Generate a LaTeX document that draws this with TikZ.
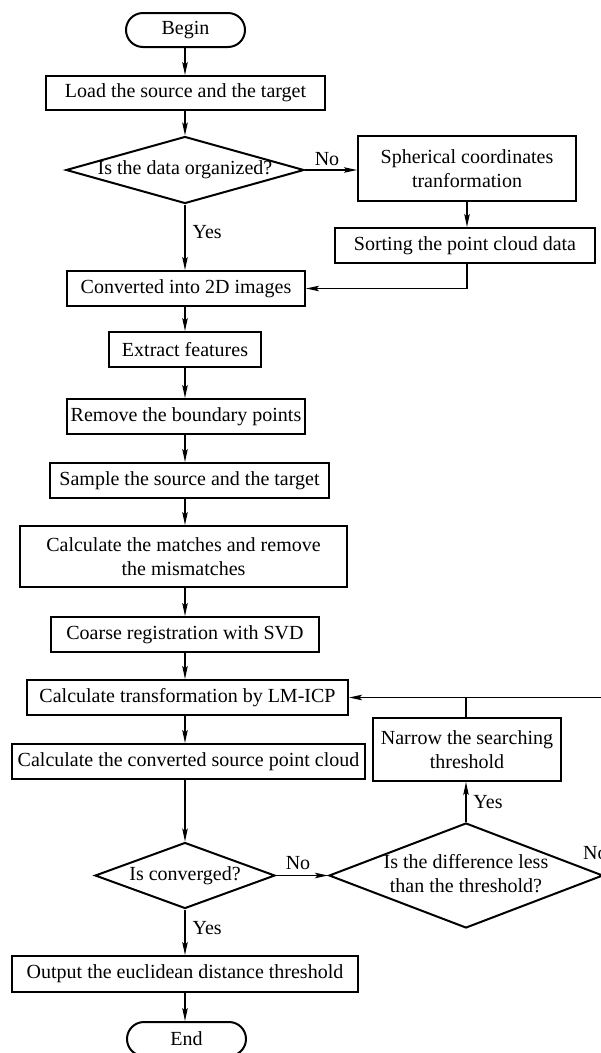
\documentclass[tikz,border=0pt]{standalone}
\usepackage{fontspec}
\setmainfont{Liberation Serif}
\usetikzlibrary{shapes.geometric,arrows.meta}

\begin{document}
\begin{tikzpicture}[x=1pt,y=-1pt,
  font=\fontsize{20}{24}\selectfont,
  box/.style={draw, line width=2pt, rectangle, inner sep=0pt, align=center},
  term/.style={draw, line width=2pt, rectangle, rounded corners=17pt, inner sep=0pt, minimum width=119pt, minimum height=34pt},
  dia/.style={draw, line width=2pt, diamond, inner sep=0pt, align=center},
  conn/.style={line width=1.2pt, -{Stealth[length=13pt,width=5.5pt,inset=2.5pt]}},
  plain/.style={line width=1.2pt},
  lbl/.style={inner sep=0pt}]

\path[clip, use as bounding box] (0,0) rectangle (601,1053);
\fill[white] (0,0) rectangle (601,1053);

\coordinate (ax) at (185,0);

% main column
\node[term] (begin) at (185.5,30) {Begin};
\node[box, minimum width=279pt, minimum height=34pt] (load) at (185.5,93) {Load the source and the target};
\node[dia, minimum width=238pt, minimum height=67pt] (d1) at (185,170) {\makebox[0pt]{Is the data organized?}};
\node[box, minimum width=238pt, minimum height=35pt] (conv) at (186,288.5) {Converted into 2D images};
\node[box, minimum width=152pt, minimum height=35pt] (extract) at (185,349.5) {Extract features};
\node[box, minimum width=238pt, minimum height=35pt] (remove) at (186,416.5) {Remove the boundary points};
\node[box, minimum width=279pt, minimum height=35pt] (sample) at (189.5,480.5) {Sample the source and the target};
\node[box, minimum width=327pt, minimum height=61pt] (matches) at (183.5,556.5) {Calculate the matches and remove\\the mismatches};
\node[box, minimum width=268pt, minimum height=35pt] (coarse) at (185,634.5) {Coarse registration with SVD};
\node[box, minimum width=321pt, minimum height=35pt] (trans) at (187.5,697.5) {Calculate transformation by LM-ICP};
\node[box, minimum width=353pt, minimum height=35pt] (csrc) at (188.5,761.5) {Calculate the converted source point cloud};
\node[dia, minimum width=180pt, minimum height=66pt] (d2) at (185,875.5) {\makebox[0pt]{Is converged?}};
\node[box, minimum width=346pt, minimum height=36pt] (out) at (185,974) {Output the euclidean distance threshold};
\node[term] (end) at (186.5,1039) {End};

% right column
\node[box, minimum width=218pt, minimum height=65pt] (sph) at (467,168.5) {Spherical coordinates\\tranformation};
\node[box, minimum width=260pt, minimum height=35pt] (sort) at (465,245.5) {Sorting the point cloud data};
\node[box, minimum width=188pt, minimum height=63pt] (narrow) at (467,749.5) {Narrow the searching\\threshold};
\node[dia, minimum width=274pt, minimum height=105pt] (d3) at (466,875.5) {\makebox[0pt]{\begin{tabular}{@{}c@{}}Is the difference less\\than the threshold?\end{tabular}}};
\coordinate (fb) at (610,697.5);

% connectors on the main axis
\draw[conn] (begin.south -| ax) -- (load.north -| ax);
\draw[conn] (load.south -| ax) -- (d1.north -| ax);
\draw[conn] (d1.south -| ax) -- node[lbl, pos=0.42, right=7pt] {Yes} (conv.north -| ax);
\draw[conn] (conv.south -| ax) -- (extract.north -| ax);
\draw[conn] (extract.south -| ax) -- (remove.north -| ax);
\draw[conn] (remove.south -| ax) -- (sample.north -| ax);
\draw[conn] (sample.south -| ax) -- (matches.north -| ax);
\draw[conn] (matches.south -| ax) -- (coarse.north -| ax);
\draw[conn] (coarse.south -| ax) -- (trans.north -| ax);
\draw[conn] (trans.south -| ax) -- (csrc.north -| ax);
\draw[conn] (csrc.south -| ax) -- (d2.north -| ax);
\draw[conn] (d2.south -| ax) -- node[lbl, pos=0.4, right=7pt] {Yes} (out.north -| ax);
\draw[conn] (out.south -| ax) -- (end.north -| ax);

% side branches
\draw[conn] (d1.east) -- (d1.east -| sph.west);
\node[lbl] (no1) at (327,159) {No};
\draw[conn] (sph.south) -- (sph.south |- sort.north);
\draw[conn] (sph.south |- sort.south) |- (conv.east);

\draw[conn] (d2.east) -- (d3.west);
\node[lbl] (no2) at (298,863) {No};
\draw[conn] (d3.north) -- (d3.north |- narrow.south);
\node[lbl] (yes3) at (488,802) {Yes};
\node[lbl, anchor=west] (no3) at (583,853) {No};

\draw[plain] (narrow.north -| d3.north) -- (trans.east -| d3.north);
\draw[conn] (fb) -- (trans.east);
\end{tikzpicture}
\end{document}
